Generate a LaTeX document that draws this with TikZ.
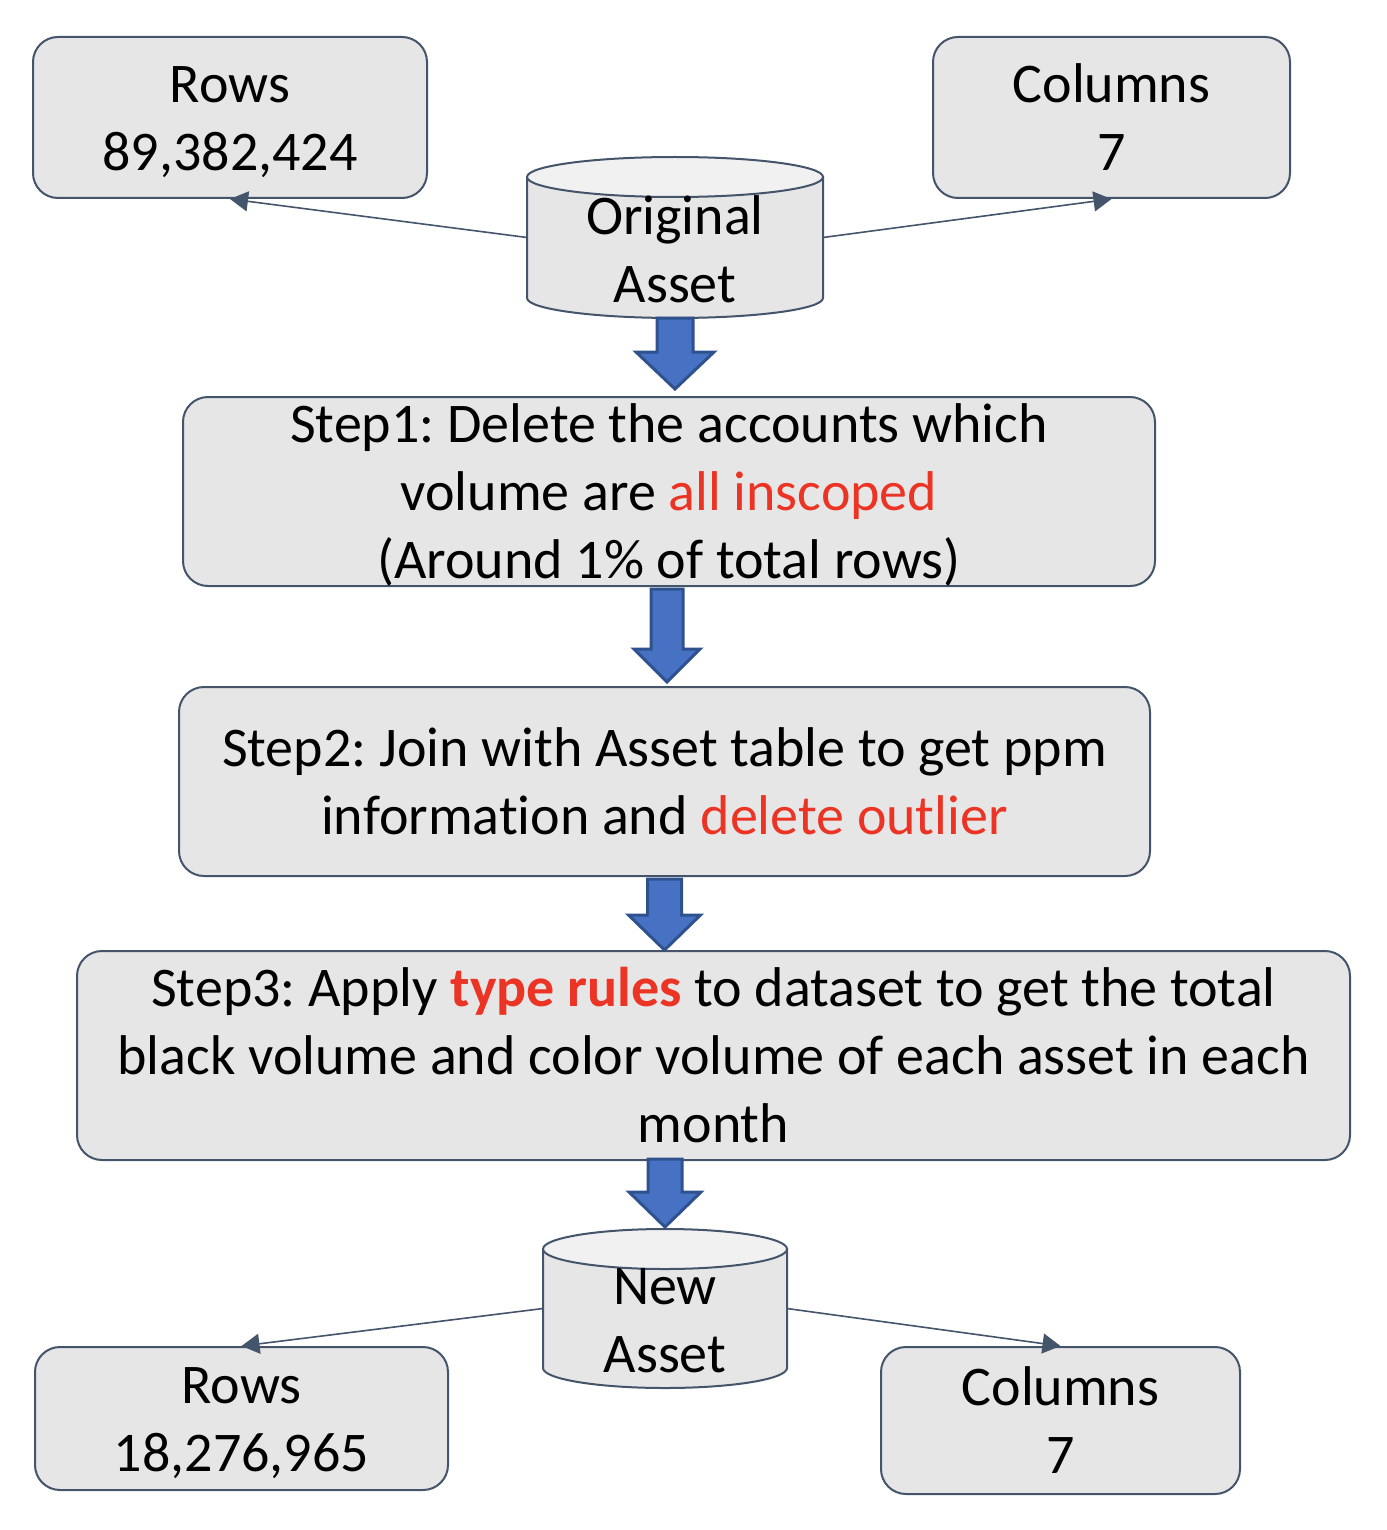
\documentclass[tikz,border=0pt]{standalone}
\usepackage{fontspec}
\setmainfont{Carlito}[Ligatures=CommonOff]
\usetikzlibrary{arrows.meta,calc}
\frenchspacing

\definecolor{boxgray}{RGB}{231,230,230}
\definecolor{capgray}{RGB}{241,241,241}
\definecolor{edgeblue}{RGB}{68,84,106}
\definecolor{flowblue}{RGB}{71,114,196}
\definecolor{flowedge}{RGB}{47,82,143}
\definecolor{hotred}{RGB}{235,52,36}
\newcommand{\hot}[1]{\textcolor{hotred}{#1}}
% block arrow from #1 down to #2: shaft half width, head half width, head length
\newcommand{\flowdown}[5]{%
  \draw[flowarrow] ($(#1)+(-#3,0)$) -- ($(#2)+(-#3,-#5)$) -- ($(#2)+(-#4,-#5)$) -- (#2)
    -- ($(#2)+(#4,-#5)$) -- ($(#2)+(#3,-#5)$) -- ($(#1)+(#3,0)$) -- cycle;}
% data store drawn round node #1, #2 = half width
\newcommand{\drum}[2]{%
  \draw[drumline, fill=boxgray] ($(#1.north west)+(0,20)$) -- ($(#1.south west)+(0,-20)$)
    arc[start angle=180, end angle=360, x radius=#2, y radius=10pt] -- ($(#1.north east)+(0,20)$) -- cycle;
  \draw[drumline, fill=capgray] ($(#1.north)+(0,20)$) ellipse[x radius=#2, y radius=10pt];}

\begin{document}
\begin{tikzpicture}[x=0.5pt,y=-0.5pt,
  every node/.style={font=\fontsize{28}{34}\selectfont, align=center},
  card/.style={draw=edgeblue, line width=1pt, fill=boxgray, rounded corners=12.5pt, inner ysep=0pt},
  store/.style={inner sep=0pt, outer sep=0pt},
  drumline/.style={draw=edgeblue, line width=1pt},
  link/.style={draw=edgeblue, line width=0.8pt, -{Triangle[length=9pt,width=10pt]}},
  flowarrow/.style={draw=flowedge, line width=1.5pt, fill=flowblue, line join=miter}]
\useasboundingbox (0,0) rectangle (1386,1530);

% sources
\node[store, minimum width=148pt, minimum height=80.5pt] (orig) at (675,237.5) {};
\drum{orig}{74pt}
\node (origtxt) at ($(orig.center)+(0,12)$) {Original\\Asset};
\node[card, minimum width=197pt, minimum height=80.5pt] (rowsA) at (230,117.5) {\vphantom{l}Rows\\\smash{89,382,424}};
\node[card, minimum width=178.5pt, minimum height=80.5pt] (colsA) at (1111.5,117.5) {Columns\\7};
\draw[link] (orig.west) -- (rowsA.south);
\draw[link] (orig.east) -- (colsA.south);

% steps
\node[card, minimum width=486pt, minimum height=94.5pt] (step1) at (669,491.5)
  {Step1: Delete the accounts which\\volume are \hot{all inscoped}\\\smash{(Around 1\% of total rows)}};
\node[card, minimum width=485.5pt, minimum height=94.5pt] (step2) at (664.5,781.5)
  {Step2: Join with Asset table to get ppm\\information and \hot{delete outlier}};
\node[card, minimum width=636.5pt, minimum height=104.5pt] (step3) at (713.5,1055.5)
  {Step3: Apply \hot{\bfseries type rules} to dataset to get the total\\black volume and color volume of each asset in each\\month};

% result
\node[store, minimum width=122pt, minimum height=79.5pt] (newA) at (665,1308.5) {};
\drum{newA}{61pt}
\node (newtxt) at ($(newA.center)+(0,12)$) {New\\Asset};
\node[card, minimum width=206.5pt, minimum height=71.5pt] (rowsB) at (241.5,1418.5) {\vphantom{l}Rows\\\smash{18,276,965}};
\node[card, minimum width=179.5pt, minimum height=73.5pt] (colsB) at (1060.5,1420.5) {Columns\\7};
\draw[link] (newA.west) -- (rowsB.north);
\draw[link] (newA.east) -- (colsB.north);

% flow arrows
\coordinate (f1a) at (orig.south);
\coordinate (f1b) at ($(orig.south |- step1.north)+(0,-7)$);
\coordinate (f2a) at ($(step1.south)+(-2,2)$);
\coordinate (f2b) at ($(f2a |- step2.north)+(0,-4)$);
\coordinate (f3a) at ($(step2.south)+(0,2)$);
\coordinate (f3b) at (f3a |- step3.north);
\coordinate (f4a) at ($(newA.north |- step3.south)+(0,-2)$);
\coordinate (f4b) at ($(newA.north)+(0,-2)$);
\flowdown{f1a}{f1b}{18}{39}{37}
\flowdown{f2a}{f2b}{16}{33}{33}
\flowdown{f3a}{f3b}{17}{36}{35}
\flowdown{f4a}{f4b}{17}{36}{35}
\end{tikzpicture}
\end{document}
